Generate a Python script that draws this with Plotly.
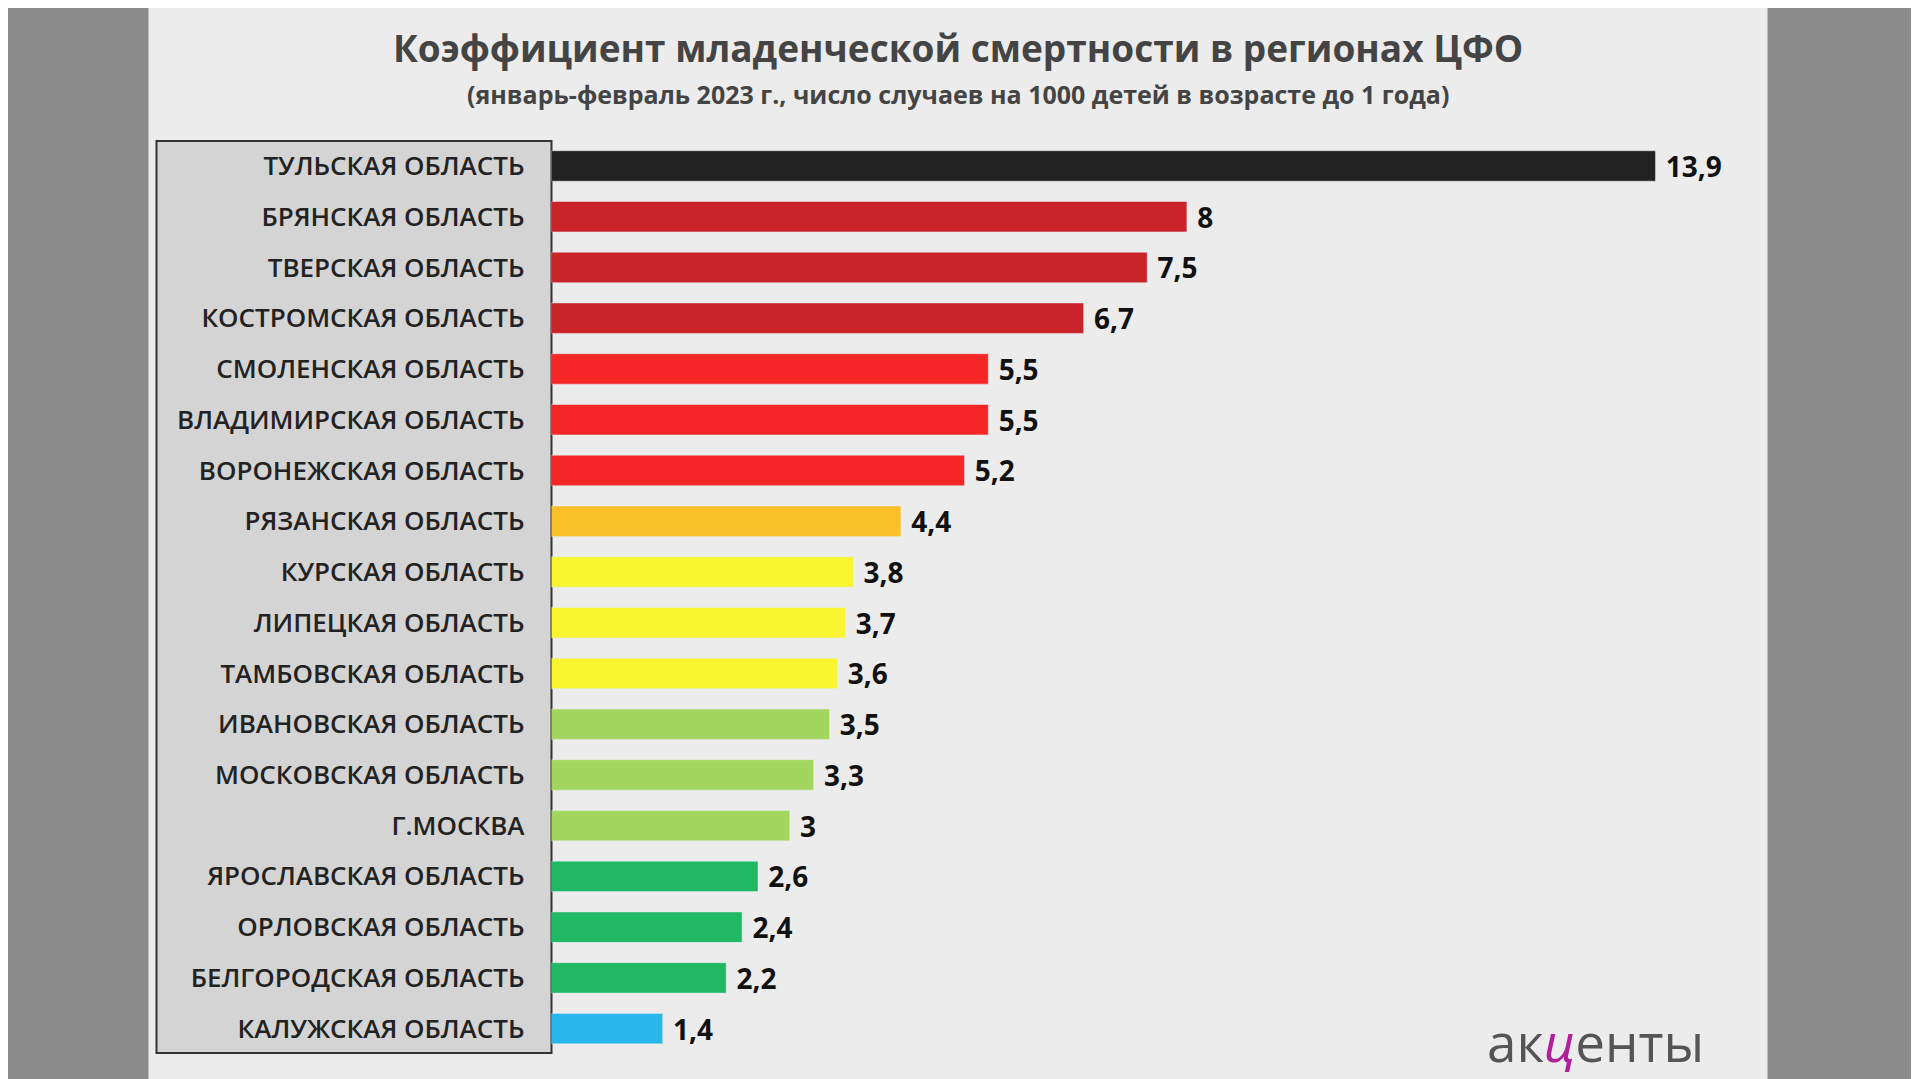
import plotly.graph_objects as go

regions = ["ТУЛЬСКАЯ ОБЛАСТЬ", "БРЯНСКАЯ ОБЛАСТЬ", "ТВЕРСКАЯ ОБЛАСТЬ", "КОСТРОМСКАЯ ОБЛАСТЬ",
           "СМОЛЕНСКАЯ ОБЛАСТЬ", "ВЛАДИМИРСКАЯ ОБЛАСТЬ", "ВОРОНЕЖСКАЯ ОБЛАСТЬ", "РЯЗАНСКАЯ ОБЛАСТЬ",
           "КУРСКАЯ ОБЛАСТЬ", "ЛИПЕЦКАЯ ОБЛАСТЬ", "ТАМБОВСКАЯ ОБЛАСТЬ", "ИВАНОВСКАЯ ОБЛАСТЬ",
           "МОСКОВСКАЯ ОБЛАСТЬ", "Г.МОСКВА", "ЯРОСЛАВСКАЯ ОБЛАСТЬ", "ОРЛОВСКАЯ ОБЛАСТЬ",
           "БЕЛГОРОДСКАЯ ОБЛАСТЬ", "КАЛУЖСКАЯ ОБЛАСТЬ"]
values = [13.9, 8, 7.5, 6.7, 5.5, 5.5, 5.2, 4.4, 3.8, 3.7, 3.6, 3.5, 3.3, 3, 2.6, 2.4, 2.2, 1.4]
colors = ["#222222", "#c9242a", "#c9242a", "#c9242a", "#f52626", "#f52626", "#f52626", "#f9c02a",
          "#f9f531", "#f9f531", "#f9f531", "#a3d65e", "#a3d65e", "#a3d65e", "#21b864", "#21b864",
          "#21b864", "#29b6ea"]
labels = [str(v).replace(".", ",") for v in values]

W, H = 1919, 1079
dx, dy = -8.5, -7
fig = go.Figure(go.Bar(
    x=values, y=regions, orientation="h", marker_color=colors, width=0.6,
    text=labels, textposition="outside", cliponaxis=False, constraintext="none",
    textfont=dict(family="Open Sans", size=28, color="#111"),
    texttemplate="&nbsp;<b>%{text}</b>",
))

fig.update_layout(
    width=W, height=H, margin=dict(l=0, r=0, t=0, b=0),
    paper_bgcolor="#8c8c8c", plot_bgcolor="rgba(0,0,0,0)",
    showlegend=False, font=dict(family="Open Sans"),
    shapes=[
        dict(type="rect", xref="paper", yref="paper", x0=(149+dx)/W, x1=(1768+dx)/W, y0=0, y1=1,
             fillcolor="#ececec", line_width=0, layer="below"),
        dict(type="rect", xref="paper", yref="paper", x0=(157+dx)/W, x1=(552+dx)/W,
             y0=1-(1052+dy)/H, y1=1-(140+dy)/H,
             fillcolor="#d4d4d4", line=dict(color="#333", width=2), layer="below"),
    ],
    annotations=[
        dict(text="<b>Коэффициент младенческой смертности в регионах ЦФО</b>", x=(958+dx)/W, y=1-40/H,
             yanchor="middle", xref="paper", yref="paper", showarrow=False, font=dict(size=37, color="#444")),
        dict(text="<b>(январь-февраль 2023 г., число случаев на 1000 детей в возрасте до 1 года)</b>",
             x=(958+dx)/W, y=1-86/H, yanchor="middle", xref="paper", yref="paper", showarrow=False,
             font=dict(size=25, color="#444")),
        dict(text="ак<span style='color:#b0209c'><i>ц</i></span>енты", x=1698/W, y=1-1033/H,
             yanchor="middle", xref="paper", yref="paper", showarrow=False, font=dict(size=53, color="#555")),
    ],
)
fig.update_xaxes(domain=[(552+dx)/W, (1768+dx)/W], range=[0, 15.31], visible=False)
fig.update_yaxes(domain=[1-(1053+dy)/H, 1-(139.6+dy)/H], autorange="reversed", showline=False,
                 ticks="", ticklabelstandoff=26,
                 tickfont=dict(family="Open Sans", size=26, color="#222", weight=600))

fig.write_html("out.html")
